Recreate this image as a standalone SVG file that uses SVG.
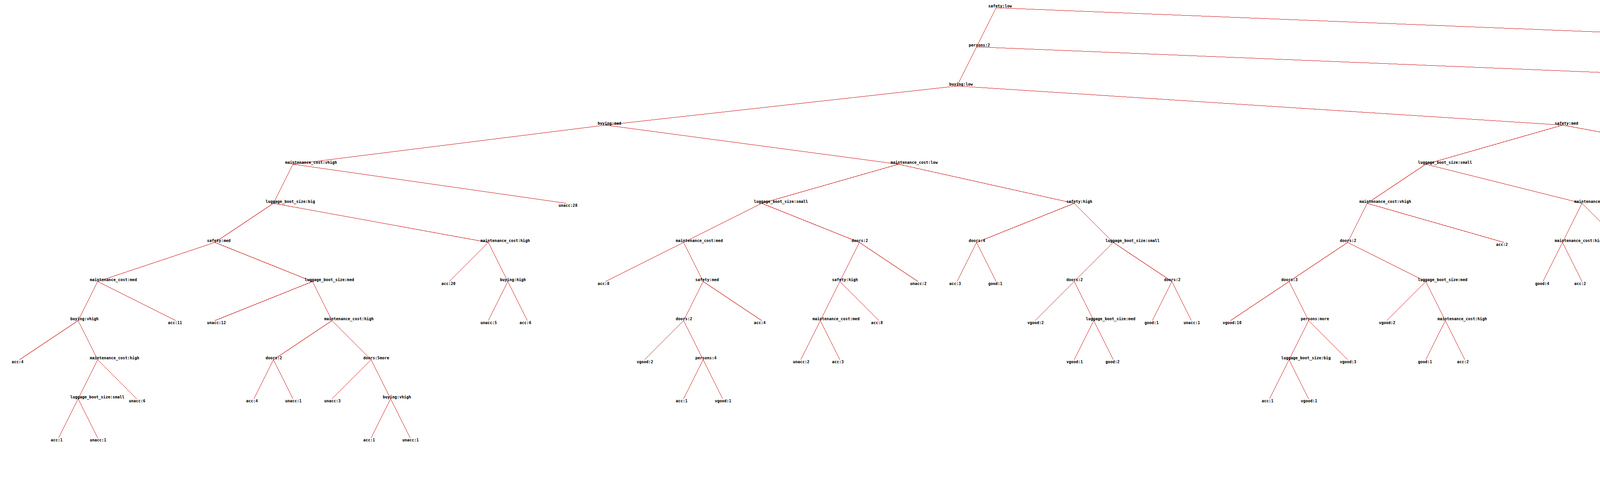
<svg xmlns="http://www.w3.org/2000/svg" width="5100" height="1220" viewBox="0 0 5100 1220">
<style>
text{font-family:"DejaVu Sans Mono","Liberation Mono",monospace;font-size:10px;font-weight:bold;fill:#000}
#connectors line{stroke:#cc0000;stroke-width:1;fill:none;shape-rendering:crispEdges}
</style>
<rect width="5100" height="1220" fill="#fff"/>
<g id="connectors">
<line x1="2550" y1="20" x2="2500" y2="120"/>
<line x1="2550" y1="20" x2="5050" y2="120"/>
<line x1="2500" y1="120" x2="2450" y2="220"/>
<line x1="2500" y1="120" x2="4950" y2="220"/>
<line x1="2450" y1="220" x2="1550" y2="320"/>
<line x1="2450" y1="220" x2="4000" y2="320"/>
<line x1="1550" y1="320" x2="750" y2="420"/>
<line x1="1550" y1="320" x2="2300" y2="420"/>
<line x1="750" y1="420" x2="700" y2="520"/>
<line x1="750" y1="420" x2="1450" y2="520"/>
<line x1="700" y1="520" x2="550" y2="620"/>
<line x1="700" y1="520" x2="1250" y2="620"/>
<line x1="550" y1="620" x2="250" y2="720"/>
<line x1="550" y1="620" x2="800" y2="720"/>
<line x1="250" y1="720" x2="200" y2="820"/>
<line x1="250" y1="720" x2="450" y2="820"/>
<line x1="200" y1="820" x2="50" y2="920"/>
<line x1="200" y1="820" x2="250" y2="920"/>
<line x1="250" y1="920" x2="200" y2="1020"/>
<line x1="250" y1="920" x2="350" y2="1020"/>
<line x1="200" y1="1020" x2="150" y2="1120"/>
<line x1="200" y1="1020" x2="250" y2="1120"/>
<line x1="800" y1="720" x2="550" y2="820"/>
<line x1="800" y1="720" x2="850" y2="820"/>
<line x1="850" y1="820" x2="700" y2="920"/>
<line x1="850" y1="820" x2="950" y2="920"/>
<line x1="700" y1="920" x2="650" y2="1020"/>
<line x1="700" y1="920" x2="750" y2="1020"/>
<line x1="950" y1="920" x2="850" y2="1020"/>
<line x1="950" y1="920" x2="1000" y2="1020"/>
<line x1="1000" y1="1020" x2="950" y2="1120"/>
<line x1="1000" y1="1020" x2="1050" y2="1120"/>
<line x1="1250" y1="620" x2="1150" y2="720"/>
<line x1="1250" y1="620" x2="1300" y2="720"/>
<line x1="1300" y1="720" x2="1250" y2="820"/>
<line x1="1300" y1="720" x2="1350" y2="820"/>
<line x1="2300" y1="420" x2="1950" y2="520"/>
<line x1="2300" y1="420" x2="2750" y2="520"/>
<line x1="1950" y1="520" x2="1750" y2="620"/>
<line x1="1950" y1="520" x2="2200" y2="620"/>
<line x1="1750" y1="620" x2="1550" y2="720"/>
<line x1="1750" y1="620" x2="1800" y2="720"/>
<line x1="1800" y1="720" x2="1750" y2="820"/>
<line x1="1800" y1="720" x2="1950" y2="820"/>
<line x1="1750" y1="820" x2="1650" y2="920"/>
<line x1="1750" y1="820" x2="1800" y2="920"/>
<line x1="1800" y1="920" x2="1750" y2="1020"/>
<line x1="1800" y1="920" x2="1850" y2="1020"/>
<line x1="2200" y1="620" x2="2150" y2="720"/>
<line x1="2200" y1="620" x2="2350" y2="720"/>
<line x1="2150" y1="720" x2="2100" y2="820"/>
<line x1="2150" y1="720" x2="2250" y2="820"/>
<line x1="2100" y1="820" x2="2050" y2="920"/>
<line x1="2100" y1="820" x2="2150" y2="920"/>
<line x1="2750" y1="520" x2="2500" y2="620"/>
<line x1="2750" y1="520" x2="2850" y2="620"/>
<line x1="2500" y1="620" x2="2450" y2="720"/>
<line x1="2500" y1="620" x2="2550" y2="720"/>
<line x1="2850" y1="620" x2="2750" y2="720"/>
<line x1="2850" y1="620" x2="3000" y2="720"/>
<line x1="2750" y1="720" x2="2650" y2="820"/>
<line x1="2750" y1="720" x2="2800" y2="820"/>
<line x1="2800" y1="820" x2="2750" y2="920"/>
<line x1="2800" y1="820" x2="2850" y2="920"/>
<line x1="3000" y1="720" x2="2950" y2="820"/>
<line x1="3000" y1="720" x2="3050" y2="820"/>
<line x1="4000" y1="320" x2="3650" y2="420"/>
<line x1="4000" y1="320" x2="4550" y2="420"/>
<line x1="3650" y1="420" x2="3500" y2="520"/>
<line x1="3650" y1="420" x2="4050" y2="520"/>
<line x1="3500" y1="520" x2="3450" y2="620"/>
<line x1="3500" y1="520" x2="3850" y2="620"/>
<line x1="3450" y1="620" x2="3300" y2="720"/>
<line x1="3450" y1="620" x2="3650" y2="720"/>
<line x1="3300" y1="720" x2="3150" y2="820"/>
<line x1="3300" y1="720" x2="3350" y2="820"/>
<line x1="3350" y1="820" x2="3300" y2="920"/>
<line x1="3350" y1="820" x2="3450" y2="920"/>
<line x1="3300" y1="920" x2="3250" y2="1020"/>
<line x1="3300" y1="920" x2="3350" y2="1020"/>
<line x1="3650" y1="720" x2="3550" y2="820"/>
<line x1="3650" y1="720" x2="3700" y2="820"/>
<line x1="3700" y1="820" x2="3650" y2="920"/>
<line x1="3700" y1="820" x2="3750" y2="920"/>
<line x1="4050" y1="520" x2="4000" y2="620"/>
<line x1="4050" y1="520" x2="4150" y2="620"/>
<line x1="4000" y1="620" x2="3950" y2="720"/>
<line x1="4000" y1="620" x2="4050" y2="720"/>
<line x1="4550" y1="420" x2="4450" y2="520"/>
<line x1="4550" y1="420" x2="4800" y2="520"/>
<line x1="4450" y1="520" x2="4400" y2="620"/>
<line x1="4450" y1="520" x2="4650" y2="620"/>
<line x1="4400" y1="620" x2="4350" y2="720"/>
<line x1="4400" y1="620" x2="4550" y2="720"/>
<line x1="4350" y1="720" x2="4300" y2="820"/>
<line x1="4350" y1="720" x2="4450" y2="820"/>
<line x1="4300" y1="820" x2="4250" y2="920"/>
<line x1="4300" y1="820" x2="4350" y2="920"/>
<line x1="4800" y1="520" x2="4750" y2="620"/>
<line x1="4800" y1="520" x2="4850" y2="620"/>
</g>
<g id="n0"><text x="2530" y="19">safety:low</text></g>
<g id="n1"><text x="2480" y="119">persons:2</text></g>
<g id="n2"><text x="5030" y="129">unacc:157</text></g>
<g id="n3"><text x="2430" y="219">buying:low</text></g>
<g id="n4"><text x="4930" y="229">unacc:109</text></g>
<g id="n5"><text x="1530" y="319">buying:med</text></g>
<g id="n6"><text x="3980" y="319">safety:med</text></g>
<g id="n7"><text x="730" y="419">maintenance_cost:vhigh</text></g>
<g id="n8"><text x="2280" y="419">maintenance_cost:low</text></g>
<g id="n9"><text x="680" y="519">luggage_boot_size:big</text></g>
<g id="n10"><text x="1430" y="529">unacc:28</text></g>
<g id="n11"><text x="530" y="619">safety:med</text></g>
<g id="n12"><text x="1230" y="619">maintenance_cost:high</text></g>
<g id="n13"><text x="230" y="719">maintenance_cost:med</text></g>
<g id="n14"><text x="780" y="719">luggage_boot_size:med</text></g>
<g id="n15"><text x="180" y="819">buying:vhigh</text></g>
<g id="n16"><text x="430" y="829">acc:11</text></g>
<g id="n17"><text x="30" y="929">acc:4</text></g>
<g id="n18"><text x="230" y="919">maintenance_cost:high</text></g>
<g id="n19"><text x="180" y="1019">luggage_boot_size:small</text></g>
<g id="n20"><text x="330" y="1029">unacc:6</text></g>
<g id="n21"><text x="130" y="1129">acc:1</text></g>
<g id="n22"><text x="230" y="1129">unacc:1</text></g>
<g id="n23"><text x="530" y="829">unacc:12</text></g>
<g id="n24"><text x="830" y="819">maintenance_cost:high</text></g>
<g id="n25"><text x="680" y="919">doors:2</text></g>
<g id="n26"><text x="930" y="919">doors:5more</text></g>
<g id="n27"><text x="630" y="1029">acc:4</text></g>
<g id="n28"><text x="730" y="1029">unacc:1</text></g>
<g id="n29"><text x="830" y="1029">unacc:3</text></g>
<g id="n30"><text x="980" y="1019">buying:vhigh</text></g>
<g id="n31"><text x="930" y="1129">acc:1</text></g>
<g id="n32"><text x="1030" y="1129">unacc:1</text></g>
<g id="n33"><text x="1130" y="729">acc:20</text></g>
<g id="n34"><text x="1280" y="719">buying:high</text></g>
<g id="n35"><text x="1230" y="829">unacc:5</text></g>
<g id="n36"><text x="1330" y="829">acc:6</text></g>
<g id="n37"><text x="1930" y="519">luggage_boot_size:small</text></g>
<g id="n38"><text x="2730" y="519">safety:high</text></g>
<g id="n39"><text x="1730" y="619">maintenance_cost:med</text></g>
<g id="n40"><text x="2180" y="619">doors:2</text></g>
<g id="n41"><text x="1530" y="729">acc:8</text></g>
<g id="n42"><text x="1780" y="719">safety:med</text></g>
<g id="n43"><text x="1730" y="819">doors:2</text></g>
<g id="n44"><text x="1930" y="829">acc:4</text></g>
<g id="n45"><text x="1630" y="929">vgood:2</text></g>
<g id="n46"><text x="1780" y="919">persons:4</text></g>
<g id="n47"><text x="1730" y="1029">acc:1</text></g>
<g id="n48"><text x="1830" y="1029">vgood:1</text></g>
<g id="n49"><text x="2130" y="719">safety:high</text></g>
<g id="n50"><text x="2330" y="729">unacc:2</text></g>
<g id="n51"><text x="2080" y="819">maintenance_cost:med</text></g>
<g id="n52"><text x="2230" y="829">acc:8</text></g>
<g id="n53"><text x="2030" y="929">unacc:2</text></g>
<g id="n54"><text x="2130" y="929">acc:3</text></g>
<g id="n55"><text x="2480" y="619">doors:4</text></g>
<g id="n56"><text x="2830" y="619">luggage_boot_size:small</text></g>
<g id="n57"><text x="2430" y="729">acc:3</text></g>
<g id="n58"><text x="2530" y="729">good:1</text></g>
<g id="n59"><text x="2730" y="719">doors:2</text></g>
<g id="n60"><text x="2980" y="719">doors:2</text></g>
<g id="n61"><text x="2630" y="829">vgood:2</text></g>
<g id="n62"><text x="2780" y="819">luggage_boot_size:med</text></g>
<g id="n63"><text x="2730" y="929">vgood:1</text></g>
<g id="n64"><text x="2830" y="929">good:2</text></g>
<g id="n65"><text x="2930" y="829">good:1</text></g>
<g id="n66"><text x="3030" y="829">unacc:1</text></g>
<g id="n67"><text x="3630" y="419">luggage_boot_size:small</text></g>
<g id="n68"><text x="4530" y="419">maintenance_cost:vhigh</text></g>
<g id="n69"><text x="3480" y="519">maintenance_cost:vhigh</text></g>
<g id="n70"><text x="4030" y="519">maintenance_cost:vhigh</text></g>
<g id="n71"><text x="3430" y="619">doors:2</text></g>
<g id="n72"><text x="3830" y="629">acc:2</text></g>
<g id="n73"><text x="3280" y="719">doors:3</text></g>
<g id="n74"><text x="3630" y="719">luggage_boot_size:med</text></g>
<g id="n75"><text x="3130" y="829">vgood:10</text></g>
<g id="n76"><text x="3330" y="819">persons:more</text></g>
<g id="n77"><text x="3280" y="919">luggage_boot_size:big</text></g>
<g id="n78"><text x="3430" y="929">vgood:3</text></g>
<g id="n79"><text x="3230" y="1029">acc:1</text></g>
<g id="n80"><text x="3330" y="1029">vgood:1</text></g>
<g id="n81"><text x="3530" y="829">vgood:2</text></g>
<g id="n82"><text x="3680" y="819">maintenance_cost:high</text></g>
<g id="n83"><text x="3630" y="929">good:1</text></g>
<g id="n84"><text x="3730" y="929">acc:2</text></g>
<g id="n85"><text x="3980" y="619">maintenance_cost:high</text></g>
<g id="n86"><text x="4130" y="629">acc:2</text></g>
<g id="n87"><text x="3930" y="729">good:4</text></g>
<g id="n88"><text x="4030" y="729">acc:2</text></g>
<g id="n89"><text x="4430" y="519">maintenance_cost:high</text></g>
<g id="n90"><text x="4780" y="519">luggage_boot_size:big</text></g>
<g id="n91"><text x="4380" y="619">luggage_boot_size:big</text></g>
<g id="n92"><text x="4630" y="629">acc:5</text></g>
<g id="n93"><text x="4330" y="719">doors:2</text></g>
<g id="n94"><text x="4530" y="729">good:5</text></g>
<g id="n95"><text x="4280" y="819">luggage_boot_size:med</text></g>
<g id="n96"><text x="4430" y="829">acc:3</text></g>
<g id="n97"><text x="4230" y="929">acc:3</text></g>
<g id="n98"><text x="4330" y="929">good:4</text></g>
<g id="n99"><text x="4730" y="629">unacc:4</text></g>
<g id="n100"><text x="4830" y="629">acc:3</text></g>
</svg>
